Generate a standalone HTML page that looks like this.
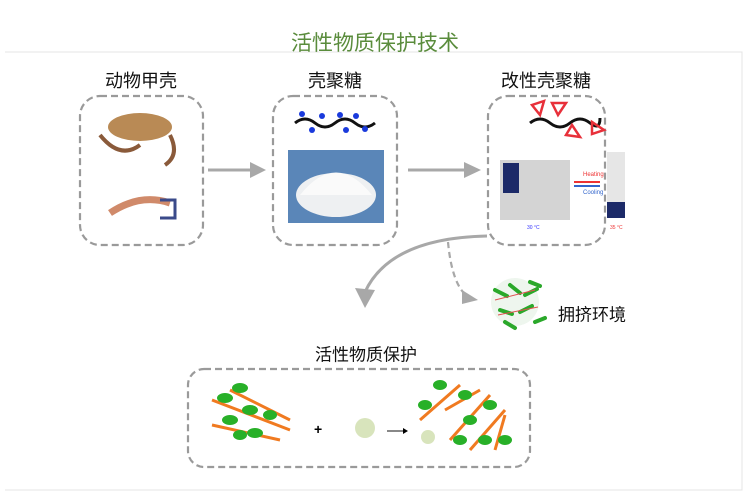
<!DOCTYPE html>
<html><head><meta charset="utf-8"><style>
body{margin:0;width:750px;height:492px;background:#fff;position:relative;overflow:hidden;font-family:"Liberation Sans","Noto Sans CJK SC",sans-serif}
.t{position:absolute;white-space:nowrap;transform:translate(-50%,-50%);color:#111}
</style></head><body>
<svg width="750" height="492" style="position:absolute;left:0;top:0">
<defs>
<marker id="ah" markerWidth="8" markerHeight="8" refX="4" refY="4" orient="auto" markerUnits="userSpaceOnUse" viewBox="0 0 8 8"><path d="M0,0 L8,4 L0,8 z" fill="#a8a8a8"/></marker>
</defs>
<path d="M5,52 H742 V490 H5" fill="none" stroke="#e4e4e4" stroke-width="1"/>
<g fill="none" stroke="#9a9a9a" stroke-width="2.2" stroke-dasharray="7,4">
<rect x="80" y="96" width="123" height="149" rx="20"/>
<rect x="273" y="96" width="124" height="149" rx="20"/>
<rect x="488" y="96" width="117" height="149" rx="20"/>
<rect x="188" y="369" width="342" height="98" rx="16"/>
</g>
<g stroke="#a8a8a8" stroke-width="3" fill="#a8a8a8">
<line x1="208" y1="170" x2="252" y2="170"/><path d="M250,162 L266,170 L250,178 z" stroke="none"/>
<line x1="408" y1="170" x2="466" y2="170"/><path d="M464,162 L481,170 L464,178 z" stroke="none"/>
<path d="M487,236 Q390,238 365,292" fill="none"/><path d="M355,288 L365,308 L375,290 z" stroke="none"/>
<path d="M448,242 Q452,285 468,297" fill="none" stroke-dasharray="6,4" stroke-width="2.2"/><path d="M462,290 L478,300 L462,304 z" stroke="none"/>
</g>
<!-- crab -->
<ellipse cx="140" cy="127" rx="32" ry="14" fill="#b98a55"/>
<path d="M100,135 q20,25 40,10 M170,135 q10,20 -5,30" stroke="#8a5a3a" stroke-width="4" fill="none"/>
<!-- shrimp -->
<path d="M110,213 q30,-20 60,-10" stroke="#d08a6a" stroke-width="7" fill="none"/>
<path d="M160,200 h15 v18 h-15" stroke="#3a4a8a" stroke-width="3" fill="none"/>
<!-- chitosan chain -->
<path d="M295,123 q10,-8 20,0 t20,0 t20,0 t20,0" stroke="#111" stroke-width="3" fill="none"/>
<g fill="#1a3adc"><circle cx="302" cy="114" r="3"/><circle cx="322" cy="116" r="3"/><circle cx="340" cy="115" r="3"/><circle cx="356" cy="116" r="3"/><circle cx="312" cy="130" r="3"/><circle cx="346" cy="130" r="3"/><circle cx="365" cy="129" r="3"/></g>
<rect x="288" y="150" width="96" height="73" fill="#5a86b8"/>
<ellipse cx="336" cy="195" rx="40" ry="22" fill="#eef0f2"/>
<path d="M300,195 Q336,150 372,195 z" fill="#fafafa"/>
<!-- modified chain -->
<path d="M530,123 q10,-8 20,0 t20,0 t20,0 t10,-5" stroke="#111" stroke-width="3" fill="none"/>
<g fill="none" stroke="#e8303a" stroke-width="2.5"><path d="M540,115 l-8,-10 l12,-4 z"/><path d="M558,115 l-6,-12 l14,0 z"/><path d="M572,125 l-6,10 l14,2 z"/><path d="M592,122 l0,12 l12,-4 z"/></g>
<rect x="500" y="160" width="70" height="60" fill="#d4d4d4"/>
<rect x="503" y="163" width="16" height="30" fill="#1c2a68"/>
<text x="583" y="176" font-size="6" fill="#e33" font-family="Liberation Sans">Heating</text>
<line x1="574" y1="182" x2="600" y2="182" stroke="#e33" stroke-width="2"/>
<line x1="574" y1="186" x2="600" y2="186" stroke="#36c" stroke-width="2"/>
<text x="583" y="194" font-size="6" fill="#36c" font-family="Liberation Sans">Cooling</text>
<rect x="607" y="152" width="18" height="66" fill="#e6e6e6"/>
<rect x="607" y="202" width="18" height="16" fill="#1c2a68"/>
<text x="527" y="229" font-size="5" fill="#33f">30 °C</text><text x="610" y="229" font-size="5" fill="#e33">35 °C</text>
<!-- crowding -->
<circle cx="515" cy="302" r="24" fill="#eef6ee"/>
<g stroke="#2aa82a" stroke-width="4" stroke-linecap="round"><path d="M495,290 l12,6 M510,285 l10,8 M525,295 l12,-6 M500,310 l12,4 M520,312 l12,-6 M535,322 l10,-4 M505,322 l10,6 M530,282 l10,4"/></g>
<g stroke="#e05050" stroke-width="1"><path d="M495,300 l40,-10 M498,315 l40,-8"/></g>
<!-- bottom box contents -->
<g stroke="#f07a20" stroke-width="3"><line x1="212" y1="400" x2="290" y2="430"/><line x1="230" y1="390" x2="290" y2="420"/><line x1="212" y1="425" x2="280" y2="440"/></g>
<g fill="#28b028"><ellipse cx="225" cy="398" rx="8" ry="5"/><ellipse cx="240" cy="388" rx="8" ry="5"/><ellipse cx="250" cy="410" rx="8" ry="5"/><ellipse cx="230" cy="420" rx="8" ry="5"/><ellipse cx="255" cy="433" rx="8" ry="5"/><ellipse cx="270" cy="415" rx="7" ry="5"/><ellipse cx="240" cy="435" rx="7" ry="5"/></g>
<text x="314" y="434" font-size="14" font-weight="bold">+</text>
<circle cx="365" cy="428" r="10" fill="#c8d8a0" opacity="0.7"/>
<line x1="387" y1="431" x2="405" y2="431" stroke="#111" stroke-width="1"/><path d="M403,428 l5,3 l-5,3z"/>
<g stroke="#f07a20" stroke-width="3"><line x1="420" y1="420" x2="460" y2="385"/><line x1="445" y1="410" x2="480" y2="390"/><line x1="450" y1="440" x2="490" y2="395"/><line x1="470" y1="450" x2="505" y2="410"/><line x1="495" y1="450" x2="505" y2="415"/></g>
<g fill="#28b028"><ellipse cx="425" cy="405" rx="7" ry="5"/><ellipse cx="440" cy="385" rx="7" ry="5"/><ellipse cx="465" cy="395" rx="7" ry="5"/><ellipse cx="470" cy="420" rx="7" ry="5"/><ellipse cx="490" cy="405" rx="7" ry="5"/><ellipse cx="460" cy="440" rx="7" ry="5"/><ellipse cx="505" cy="440" rx="7" ry="5"/><ellipse cx="485" cy="440" rx="7" ry="5"/></g>
<circle cx="428" cy="437" r="7" fill="#c8d8a0" opacity="0.7"/>
</svg>
<div class="t" style="left:375px;top:42px;font-size:21px;color:#5a8c3c">活性物质保护技术</div>
<div class="t" style="left:141px;top:80px;font-size:18px">动物甲壳</div>
<div class="t" style="left:335px;top:80px;font-size:18px">壳聚糖</div>
<div class="t" style="left:546px;top:80px;font-size:18px">改性壳聚糖</div>
<div class="t" style="left:592px;top:313px;font-size:17px">拥挤环境</div>
<div class="t" style="left:366px;top:353px;font-size:17px">活性物质保护</div>
</body></html>
